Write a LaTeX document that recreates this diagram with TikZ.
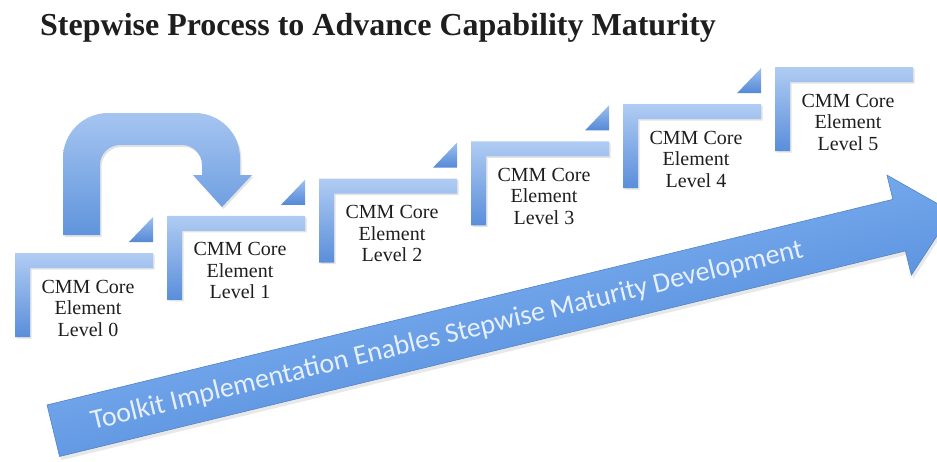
\documentclass[tikz,border=0pt]{standalone}
\usepackage{fontspec}
\setmainfont{Liberation Serif}
\newfontfamily\arrowfont{Carlito}
\usetikzlibrary{shadows}
\definecolor{brTop}{HTML}{B0CCF3}
\definecolor{brBot}{HTML}{5A8EDA}
\definecolor{trTop}{HTML}{9CBFEF}
\definecolor{trBot}{HTML}{5588D6}
\definecolor{uTop}{HTML}{A6C5F1}
\definecolor{uBot}{HTML}{5F94DC}
\definecolor{aTop}{HTML}{74A8EC}
\definecolor{aBot}{HTML}{5E95E0}
\definecolor{aEdge}{HTML}{5283C6}
\definecolor{atxt}{HTML}{E6EFFB}
\definecolor{txt}{HTML}{1E1E1E}
\begin{document}
\begin{tikzpicture}[x=1pt,y=-1pt,
  bracket/.style={top color=brTop, bottom color=brBot, draw=none,
    drop shadow={shadow xshift=1.5pt, shadow yshift=-1.5pt, opacity=0.22}},
  tri/.style={top color=trTop, bottom color=trBot, draw=none},
  steptext/.style={align=center, font=\fontsize{20}{21.5}\selectfont, text=txt, inner sep=0pt},
  uarrow/.style={top color=uTop, bottom color=uBot, draw=none,
    drop shadow={shadow xshift=1.5pt, shadow yshift=-2pt, opacity=0.22}},
  bigarrow/.style={top color=aTop, bottom color=aBot, draw=aEdge, line width=0.6pt,
    drop shadow={shadow xshift=1pt, shadow yshift=-4pt, opacity=0.18}},
  arrowtext/.style={font=\arrowfont\fontsize{28}{32}\selectfont, text=atxt, inner sep=0pt},
  titletext/.style={font=\fontsize{32}{36}\selectfont\bfseries, text=txt, inner sep=0pt, anchor=base west}
]
\useasboundingbox (0,0) rectangle (937,461);
\clip (0,0) rectangle (937,461);

% title
\node[titletext] (title) at (40,35) {Stepwise Process to Advance Capability Maturity};

% big arrow
\begin{scope}[transform canvas={shift={(53.3,430.7)}, rotate=13.66}]
  \path[bigarrow] (0,-26.5) -- (870.5,-26.5) -- (870.5,-51.5) -- (925.5,0)
     -- (870.5,51.5) -- (870.5,26.5) -- (0,26.5) -- cycle;
\end{scope}
\node[arrowtext, rotate=13.66] (band) at (447,336) {Toolkit Implementation Enables Stepwise Maturity Development};

% U-turn arrow from level 0 to level 1
\path[uarrow] (63,235) -- (63,158) .. controls (63,133.2) and (83.2,113) .. (108,113)
  -- (195,113) .. controls (219.8,113) and (240,133.2) .. (240,158)
  -- (240,175) -- (252,175) -- (222,207) -- (193,175) -- (202,175)
  -- (202,165) .. controls (202,154) and (193,145) .. (182,145)
  -- (120,145) .. controls (109,145) and (100,154) .. (100,165)
  -- (100,235) -- cycle;

% steps
\foreach \i in {0,...,5}{
  \pgfmathsetmacro\L{15+152*\i}
  \pgfmathsetmacro\T{253-37.2*\i}
  \path[bracket] (\L,\T) -- (\L+138,\T) -- (\L+138,\T+15) -- (\L+15,\T+15)
     -- (\L+15,\T+84) -- (\L,\T+84) -- cycle;
  \ifnum\i<5
    \path[tri] (\L+138,\T-36) -- (\L+138,\T-11) -- (\L+114,\T-11) -- cycle;
  \fi
  \node[steptext] (s\i) at (\L+73,\T+55) {CMM Core\\Element\\Level \i};
}
\end{tikzpicture}
\end{document}
